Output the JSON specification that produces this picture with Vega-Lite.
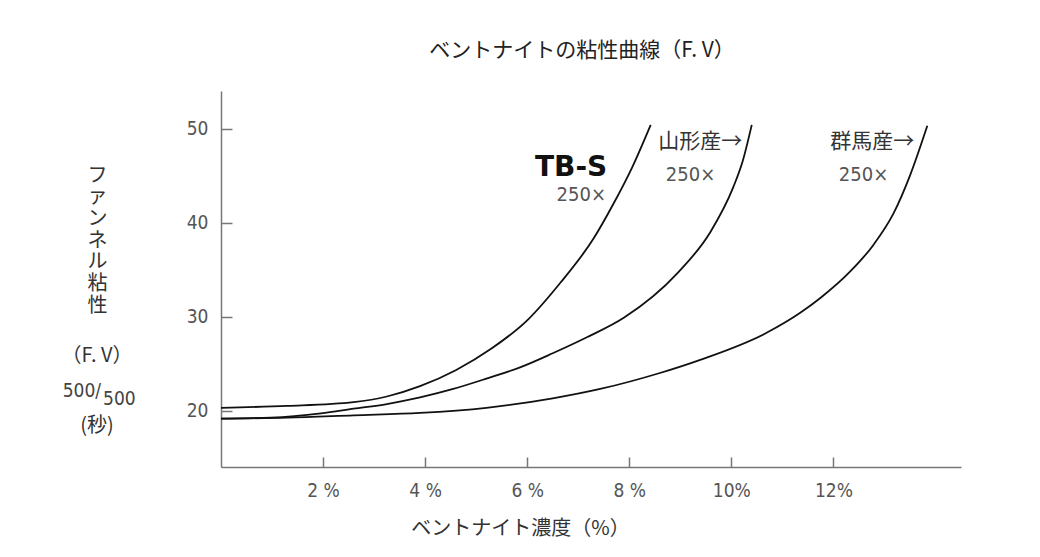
{
  "$schema": "https://vega.github.io/schema/vega-lite/v6.json",
  "width": 740,
  "height": 376,
  "autosize": {"type": "none"},
  "padding": {"left": 221, "top": 91, "right": 79, "bottom": 90},
  "background": "white",
  "title": {
    "text": "ベントナイトの粘性曲線（F. V）",
    "font": "Noto Sans CJK JP",
    "fontSize": 21,
    "fontWeight": "normal",
    "color": "#222",
    "anchor": "middle",
    "dx": -9,
    "offset": 30
  },
  "config": {
    "view": {"stroke": null},
    "axis": {
      "grid": false,
      "domainColor": "#777",
      "domainWidth": 1.5,
      "tickColor": "#777",
      "tickWidth": 1.5,
      "labelFont": "DejaVu Sans Condensed",
      "labelFontSize": 19,
      "labelColor": "#555",
      "titleFont": "Noto Sans CJK JP",
      "titleFontWeight": "normal",
      "titleColor": "#333"
    }
  },
  "datasets": {
    "curves": [
      {"series": "TB-S", "x": 0, "y": 20.3},
      {"series": "TB-S", "x": 1.3, "y": 20.5},
      {"series": "TB-S", "x": 2.6, "y": 20.9},
      {"series": "TB-S", "x": 3.25, "y": 21.5},
      {"series": "TB-S", "x": 3.9, "y": 22.6},
      {"series": "TB-S", "x": 4.6, "y": 24.3},
      {"series": "TB-S", "x": 5.3, "y": 26.6},
      {"series": "TB-S", "x": 6.0, "y": 29.6},
      {"series": "TB-S", "x": 6.65, "y": 33.6},
      {"series": "TB-S", "x": 7.3, "y": 38.3},
      {"series": "TB-S", "x": 7.69, "y": 42.0},
      {"series": "TB-S", "x": 8.05, "y": 45.8},
      {"series": "TB-S", "x": 8.42, "y": 50.4},
      {"series": "山形産", "x": 0, "y": 19.15},
      {"series": "山形産", "x": 0.98, "y": 19.25},
      {"series": "山形産", "x": 1.96, "y": 19.7},
      {"series": "山形産", "x": 2.6, "y": 20.2},
      {"series": "山形産", "x": 3.25, "y": 20.7},
      {"series": "山形産", "x": 3.9, "y": 21.4},
      {"series": "山形産", "x": 4.55, "y": 22.3},
      {"series": "山形産", "x": 5.2, "y": 23.4},
      {"series": "山形産", "x": 5.86, "y": 24.6},
      {"series": "山形産", "x": 6.5, "y": 26.1},
      {"series": "山形産", "x": 7.17, "y": 27.8},
      {"series": "山形産", "x": 7.9, "y": 29.9},
      {"series": "山形産", "x": 8.94, "y": 34.6},
      {"series": "山形産", "x": 9.59, "y": 39.0},
      {"series": "山形産", "x": 10.04, "y": 43.8},
      {"series": "山形産", "x": 10.22, "y": 46.5},
      {"series": "山形産", "x": 10.4, "y": 50.4},
      {"series": "群馬産", "x": 0, "y": 19.15},
      {"series": "群馬産", "x": 1.3, "y": 19.25},
      {"series": "群馬産", "x": 2.6, "y": 19.5},
      {"series": "群馬産", "x": 3.9, "y": 19.75},
      {"series": "群馬産", "x": 5.2, "y": 20.3},
      {"series": "群馬産", "x": 6.5, "y": 21.3},
      {"series": "群馬産", "x": 7.43, "y": 22.3},
      {"series": "群馬産", "x": 8.6, "y": 24.0},
      {"series": "群馬産", "x": 9.39, "y": 25.4},
      {"series": "群馬産", "x": 10.7, "y": 28.3},
      {"series": "群馬産", "x": 11.35, "y": 30.4},
      {"series": "群馬産", "x": 11.75, "y": 32.0},
      {"series": "群馬産", "x": 12.33, "y": 34.8},
      {"series": "群馬産", "x": 12.78, "y": 37.6},
      {"series": "群馬産", "x": 13.18, "y": 41.0},
      {"series": "群馬産", "x": 13.5, "y": 45.0},
      {"series": "群馬産", "x": 13.84, "y": 50.3}
    ],
    "boldLabels": [
      {"text": "TB-S", "x": 6.86, "y": 45.85}
    ],
    "jpLabels": [
      {"text": "山形産→", "x": 9.39, "y": 48.6},
      {"text": "群馬産→", "x": 12.76, "y": 48.6}
    ],
    "numLabels": [
      {"text": "250×", "x": 7.06, "y": 42.9},
      {"text": "250×", "x": 9.2, "y": 45.1},
      {"text": "250×", "x": 12.59, "y": 45.1}
    ],
    "yTitleParts": [
      {"text": "（F. V）", "x": -2.43, "y": 25.85},
      {"text": "(秒)", "x": -2.43, "y": 18.4}
    ],
    "yTitleNumL": [
      {"text": "500/", "x": -2.35, "y": 22.13}
    ],
    "yTitleNumR": [
      {"text": "500", "x": -2.31, "y": 21.28}
    ]
  },
  "layer": [
    {
      "data": {"name": "curves"},
      "mark": {"type": "line", "interpolate": "monotone", "color": "#111", "strokeWidth": 1.8, "clip": false},
      "encoding": {
        "x": {
          "field": "x",
          "type": "quantitative",
          "scale": {"domain": [0, 14.5], "nice": false},
          "axis": {
            "values": [2, 4, 6, 8, 10, 12],
            "labelExpr": "datum.value < 10 ? datum.value + ' %' : datum.value + '%'",
            "tickSize": -10,
            "labelPadding": 33,
            "labelBaseline": "middle",
            "title": "ベントナイト濃度（%）",
            "titleFontSize": 20,
            "titleX": 299,
            "titleY": 61,
            "titleAlign": "center",
            "titleBaseline": "middle",
            "titleAnchor": null
          }
        },
        "y": {
          "field": "y",
          "type": "quantitative",
          "scale": {"domain": [14, 54], "nice": false, "zero": false},
          "axis": {
            "values": [20, 30, 40, 50],
            "tickSize": -11,
            "labelPadding": 24,
            "title": ["フ", "ァ", "ン", "ネ", "ル", "粘", "性"],
            "titleAngle": 0,
            "titleFontSize": 20,
            "titleLineHeight": 21.7,
            "titleX": -124,
            "titleY": 84,
            "titleAlign": "center",
            "titleBaseline": "middle"
          }
        },
        "detail": {"field": "series"}
      }
    },
    {
      "data": {"name": "boldLabels"},
      "mark": {"type": "text", "font": "DejaVu Sans", "fontWeight": "bold", "fontSize": 28, "color": "#111", "align": "center", "baseline": "middle"},
      "encoding": {
        "x": {"field": "x", "type": "quantitative"},
        "y": {"field": "y", "type": "quantitative"},
        "text": {"field": "text"}
      }
    },
    {
      "data": {"name": "jpLabels"},
      "mark": {"type": "text", "font": "Noto Sans CJK JP", "fontSize": 21, "color": "#333", "align": "center", "baseline": "middle"},
      "encoding": {
        "x": {"field": "x", "type": "quantitative"},
        "y": {"field": "y", "type": "quantitative"},
        "text": {"field": "text"}
      }
    },
    {
      "data": {"name": "numLabels"},
      "mark": {"type": "text", "font": "DejaVu Sans Condensed", "fontSize": 20, "color": "#555", "align": "center", "baseline": "middle"},
      "encoding": {
        "x": {"field": "x", "type": "quantitative"},
        "y": {"field": "y", "type": "quantitative"},
        "text": {"field": "text"}
      }
    },
    {
      "data": {"name": "yTitleParts"},
      "mark": {"type": "text", "font": "Noto Sans CJK JP", "fontSize": 20, "color": "#333", "align": "center", "baseline": "middle"},
      "encoding": {
        "x": {"field": "x", "type": "quantitative"},
        "y": {"field": "y", "type": "quantitative"},
        "text": {"field": "text"}
      }
    },
    {
      "data": {"name": "yTitleNumL"},
      "mark": {"type": "text", "font": "DejaVu Sans Condensed", "fontSize": 19, "color": "#444", "align": "right", "baseline": "middle"},
      "encoding": {
        "x": {"field": "x", "type": "quantitative"},
        "y": {"field": "y", "type": "quantitative"},
        "text": {"field": "text"}
      }
    },
    {
      "data": {"name": "yTitleNumR"},
      "mark": {"type": "text", "font": "DejaVu Sans Condensed", "fontSize": 19, "color": "#444", "align": "left", "baseline": "middle"},
      "encoding": {
        "x": {"field": "x", "type": "quantitative"},
        "y": {"field": "y", "type": "quantitative"},
        "text": {"field": "text"}
      }
    }
  ]
}
